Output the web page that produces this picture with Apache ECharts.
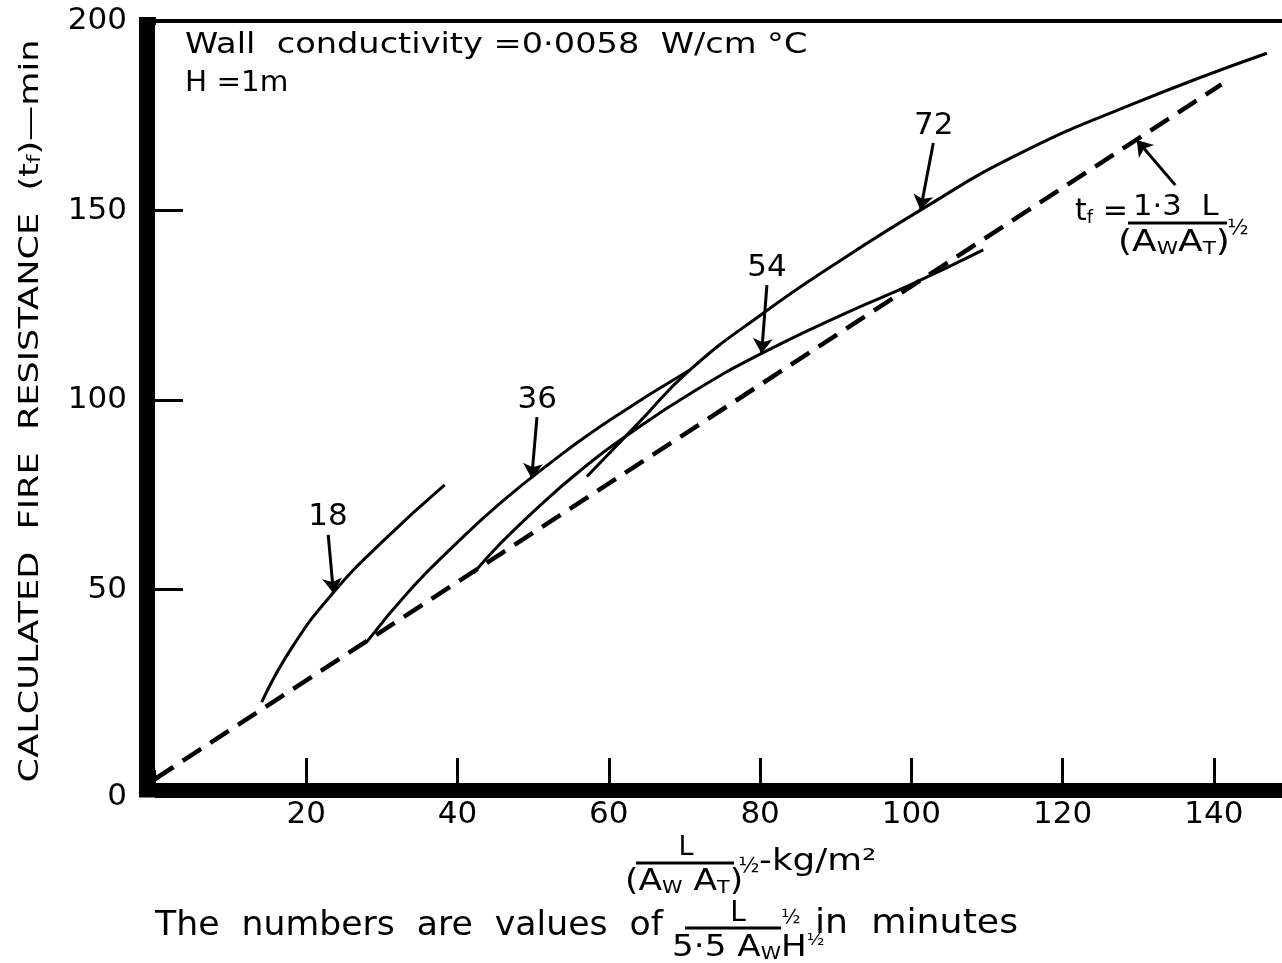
<!DOCTYPE html>
<html>
<head>
<meta charset="utf-8">
<title>Calculated fire resistance</title>
<script src="https://cdn.jsdelivr.net/npm/echarts@6/dist/echarts.min.js"></script>
<style>
  html, body { margin: 0; padding: 0; background: #fff; }
  #chart { width: 1282px; height: 963px; }
</style>
</head>
<body>
<div id="chart"></div>
<script>
// points: [L/(AwAT)^1/2 in kg/m2, tf in min]
var curve18 = [[14.1, 20.3], [18.2, 35.0], [23.5, 49.0], [30.0, 62.5], [38.3, 77.6]];
var curve36 = [[28.0, 36.2], [34.1, 50.7], [39.5, 61.5], [45.6, 72.7], [52.0, 83.0],
               [60.0, 94.5], [70.7, 107.9]];
var curve54 = [[42.1, 54.3], [45.6, 62.0], [50.0, 70.5], [56.0, 81.0], [63.0, 91.5],
               [71.0, 102.0], [80.2, 112.3], [91.4, 123.0], [100.0, 130.5], [109.5, 139.6]];
var curve72 = [[57.1, 79.8], [63.9, 93.9], [70.7, 107.9], [80.4, 122.9], [90.0, 136.0],
               [101.2, 150.1], [113.5, 164.2], [128.9, 177.8], [147.0, 191.5]];
var lineFormula = [[0, 0], [141, 183.3]];   // tf = 1.3 L/(AwAT)^1/2

// arrows from each label down to its curve: [from, to, curveness]
var arrow18 = [[22.9, 64.4], [23.6, 49.0], -0.05];
var arrow36 = [[50.5, 95.5], [49.8, 79.3], -0.06];
var arrow54 = [[80.9, 130.3], [80.2, 112.3], -0.08];
var arrow72 = [[102.9, 167.8], [101.2, 150.1], -0.08];
var arrowFormula = [[134.9, 156.7], [129.8, 168.6], 0];

var xTicks = [20, 40, 60, 80, 100, 120, 140];
var yTicks = [50, 100, 150];
var yLabels = [50, 100, 150, 200];

var FONT = 'DejaVu Sans';

function curve(name, data, arrow) {
  return {
    name: name, type: 'line', data: data, smooth: 0.5,
    showSymbol: false, silent: true,
    lineStyle: { color: '#000', width: 3 },
    markLine: {
      silent: true, symbol: ['none', 'arrow'], symbolSize: 15,
      lineStyle: { color: '#000', width: 3, type: 'solid', curveness: arrow[2] },
      label: { show: true, position: 'start', formatter: name, distance: 2,
               color: '#000', fontSize: 31, fontFamily: FONT },
      data: [[{ coord: arrow[0] }, { coord: arrow[1] }]]
    }
  };
}

var sub = { fontSize: 18, lineHeight: 12, verticalAlign: 'bottom', fontFamily: FONT, fill: '#000' };
var sup = { fontSize: 16, lineHeight: 10, verticalAlign: 'top', fontFamily: FONT, fill: '#000' };

// lettering in the figure is wide, so text is stretched a little with scaleX
function txt(x, y, text, size, align, sx, rot) {
  return {
    type: 'text', x: x, y: y, silent: true, scaleX: sx || 1, rotation: rot || 0,
    style: { text: text, fontSize: size, fontFamily: FONT, fill: '#000',
             align: align || 'left', verticalAlign: 'middle', rich: { s: sub, p: sup } }
  };
}
function bar(x1, x2, y) {
  return { type: 'line', silent: true, shape: { x1: x1, y1: y, x2: x2, y2: y },
           style: { stroke: '#000', lineWidth: 3 } };
}

var chart = echarts.init(document.getElementById('chart'));
chart.setOption({
  animation: false,
  backgroundColor: '#fff',
  grid: { left: 155, top: 21, right: 0, bottom: 184 },
  xAxis: [{
    type: 'value', min: 0, max: 149, interval: 20, position: 'bottom', offset: 11,
    axisLine: { show: true, onZero: false, lineStyle: { color: '#000', width: 15, cap: 'butt' } },
    axisTick: { show: true, inside: true, length: 32, customValues: xTicks,
                lineStyle: { color: '#000', width: 3 } },
    axisLabel: { customValues: xTicks, margin: 9, color: '#000', fontSize: 31, fontFamily: FONT },
    splitLine: { show: false }
  }, {
    type: 'value', min: 0, max: 149, position: 'top',
    axisLine: { show: true, onZero: false, lineStyle: { color: '#000', width: 4 } },
    axisTick: { show: false }, axisLabel: { show: false }, splitLine: { show: false }
  }],
  yAxis: {
    type: 'value', min: 0, max: 200, interval: 50, offset: 8,
    axisLine: { show: true, onZero: false, lineStyle: { color: '#000', width: 16, cap: 'butt' } },
    axisTick: { show: true, inside: true, length: 36, customValues: yTicks,
                lineStyle: { color: '#000', width: 3 } },
    axisLabel: { customValues: yLabels, margin: 20, color: '#000', fontSize: 31, fontFamily: FONT },
    splitLine: { show: false }
  },
  series: [
    curve('18', curve18, arrow18),
    curve('36', curve36, arrow36),
    curve('54', curve54, arrow54),
    curve('72', curve72, arrow72),
    {
      name: 'formula', type: 'line', data: lineFormula, showSymbol: false, silent: true,
      lineStyle: { color: '#000', width: 4.5, type: [22, 11] },
      markLine: {
        silent: true, symbol: ['none', 'arrow'], symbolSize: 15,
        lineStyle: { color: '#000', width: 3, type: 'solid', curveness: arrowFormula[2] },
        label: { show: false },
        data: [[{ coord: arrowFormula[0] }, { coord: arrowFormula[1] }]]
      }
    }
  ],
  graphic: [
    { type: 'rect', silent: true, shape: { x: 139, y: 17, width: 17, height: 8 }, style: { fill: '#000' } },
    { type: 'rect', silent: true, shape: { x: 139, y: 770, width: 17, height: 27.5 }, style: { fill: '#000' } },
    txt(117, 797, '0', 31, 'center'),
    // y axis title
    txt(31, 411, 'CALCULATED  FIRE  RESISTANCE  (t{s|f})—min', 26, 'center', 1.35, Math.PI / 2),
    txt(185, 46, 'Wall  conductivity =0·0058  W/cm °C', 28, 'left', 1.2),
    txt(185, 84, 'H =1m', 28, 'left', 1.05),
    // x axis title
    txt(686, 848, 'L', 27, 'center'),
    bar(636, 734, 863),
    txt(625, 882, '(A{s|W} A{s|T})', 30, 'left', 1.15),
    txt(749, 866, '½', 22, 'center'),
    txt(759, 862, '-kg/m²', 30, 'left', 1.19),
    // footnote
    txt(155, 926, 'The  numbers  are  values  of', 33, 'left', 1.05),
    txt(738, 914, 'L', 28, 'center'),
    bar(685, 781, 928),
    txt(672, 948, '5·5 A{s|W}H{p|½}', 30, 'left', 1.14),
    txt(791, 918, '½', 20, 'center'),
    txt(815, 924, 'in  minutes', 33, 'left', 1.1),
    // formula of the dashed line
    txt(1075, 212, 't{s|f} =', 30),
    txt(1133, 207, '1·3  L', 29, 'left', 1.06),
    bar(1128, 1227, 223),
    txt(1118, 243, '(A{s|W}A{s|T})', 30, 'left', 1.2),
    txt(1238, 228, '½', 22, 'center')
  ]
});
</script>
</body>
</html>
